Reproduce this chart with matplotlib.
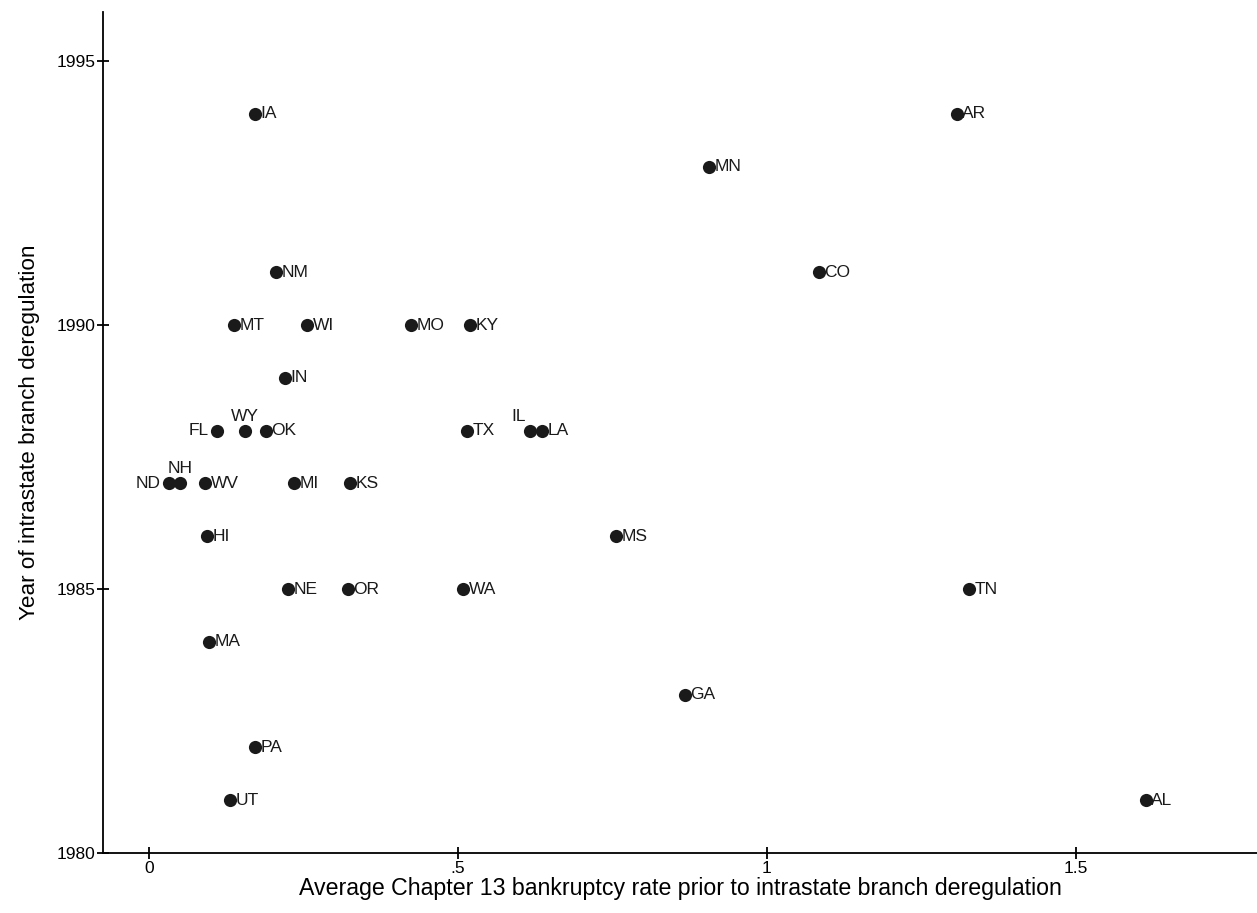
import matplotlib.pyplot as plt

plt.rcParams['font.family'] = ['Liberation Sans', 'DejaVu Sans']

states = ['IA', 'AR', 'MN', 'NM', 'CO', 'MT', 'WI', 'MO', 'KY', 'IN',
          'FL', 'WY', 'OK', 'TX', 'IL', 'LA', 'ND', 'NH', 'WV', 'MI',
          'KS', 'HI', 'MS', 'NE', 'OR', 'WA', 'TN', 'MA', 'GA', 'PA',
          'UT', 'AL']
rate = [0.1715, 1.307, 0.906, 0.2055, 1.084, 0.1375, 0.2557, 0.424, 0.519, 0.220,
        0.110, 0.155, 0.189, 0.5146, 0.6165, 0.636, 0.0324, 0.050, 0.0906, 0.2346,
        0.325, 0.0939, 0.7557, 0.225, 0.322, 0.508, 1.327, 0.097, 0.867, 0.1715,
        0.131, 1.613]
year = [1994, 1994, 1993, 1991, 1991, 1990, 1990, 1990, 1990, 1989,
        1988, 1988, 1988, 1988, 1988, 1988, 1987, 1987, 1987, 1987,
        1987, 1986, 1986, 1985, 1985, 1985, 1985, 1984, 1983, 1982,
        1981, 1981]
# label placement (clock position like Stata's mlabpos)
left_labels = ['FL', 'ND']
top_labels = ['WY', 'NH']
topleft_labels = ['IL']

fig = plt.figure(figsize=(12.57, 9.13), dpi=100)
ax = fig.add_axes([0.0819, 0.0657, 0.9181, 0.9212])

ax.scatter(rate, year, s=90, color='#1a1a1a', zorder=3, linewidths=0)

lab_size = 12.5
for st, x, y in zip(states, rate, year):
    if st in left_labels:
        ax.annotate(st, (x, y), xytext=(-6, 0), textcoords='offset points',
                    ha='right', va='center', fontsize=lab_size, color='#1a1a1a')
    elif st in top_labels:
        ax.annotate(st, (x, y), xytext=(0, 5), textcoords='offset points',
                    ha='center', va='bottom', fontsize=lab_size, color='#1a1a1a')
    elif st in topleft_labels:
        ax.annotate(st, (x, y), xytext=(-3, 5), textcoords='offset points',
                    ha='right', va='bottom', fontsize=lab_size, color='#1a1a1a')
    else:
        ax.annotate(st, (x, y), xytext=(4, 0), textcoords='offset points',
                    ha='left', va='center', fontsize=lab_size, color='#1a1a1a')

ax.set_xlim(-0.0744, 1.793)
ax.set_ylim(1980, 1995.93)
ax.set_xticks([0, 0.5, 1, 1.5])
ax.set_xticklabels(['0', '.5', '1', '1.5'])
ax.set_yticks([1980, 1985, 1990, 1995])

for side in ['top', 'right']:
    ax.spines[side].set_visible(False)
for side in ['left', 'bottom']:
    ax.spines[side].set_linewidth(1.3)
    ax.spines[side].set_color('#000000')

ax.tick_params(axis='both', direction='inout', length=9, width=1.3,
               labelsize=12.5, colors='#000000', pad=1)

ax.set_xlabel('Average Chapter 13 bankruptcy rate prior to intrastate branch deregulation',
              fontsize=16.7, labelpad=1)
ax.set_ylabel('Year of intrastate branch deregulation', fontsize=16.2, labelpad=12)

fig.savefig('out.png', dpi=100)
